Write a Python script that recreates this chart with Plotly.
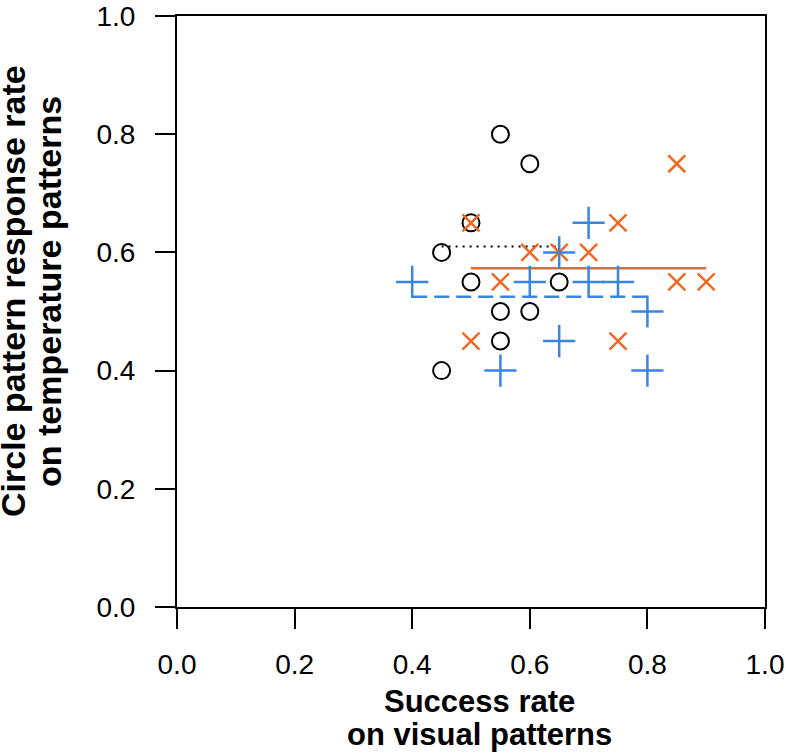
import plotly.graph_objects as go

# Data
circle_x = [0.55, 0.60, 0.50, 0.45, 0.50, 0.65, 0.55, 0.60, 0.55, 0.45]
circle_y = [0.80, 0.75, 0.65, 0.60, 0.55, 0.55, 0.50, 0.50, 0.45, 0.40]

cross_x = [0.85, 0.50, 0.75, 0.60, 0.65, 0.70, 0.55, 0.85, 0.90, 0.50, 0.75]
cross_y = [0.75, 0.65, 0.65, 0.60, 0.60, 0.60, 0.55, 0.55, 0.55, 0.45, 0.45]

plus_x = [0.70, 0.65, 0.40, 0.60, 0.70, 0.75, 0.80, 0.65, 0.55, 0.80]
plus_y = [0.65, 0.60, 0.55, 0.55, 0.55, 0.55, 0.50, 0.45, 0.40, 0.40]

# Mean lines (level and x-extent)
circle_mean = 0.61
circle_span = [0.45, 0.65]
cross_mean = 0.573
cross_span = [0.50, 0.90]
plus_mean = 0.525
plus_span = [0.40, 0.80]

tick_vals = [0.0, 0.2, 0.4, 0.6, 0.8, 1.0]
tick_text = ["0.0", "0.2", "0.4", "0.6", "0.8", "1.0"]

x_title_lines = ["Success rate", "on visual patterns"]
y_title_lines = ["Circle pattern response rate", "on temperature patterns"]

ORANGE = "#EE6A24"
BLUE = "#3A85E3"
BLACK = "#000000"
FONT = "Liberation Sans, Arial, Helvetica, sans-serif"

fig = go.Figure()

fig.add_trace(go.Scatter(x=circle_span, y=[circle_mean, circle_mean], mode="lines",
                         line=dict(color=BLACK, width=2, dash="2px,5px"), showlegend=False))
fig.add_trace(go.Scatter(x=cross_span, y=[cross_mean, cross_mean], mode="lines",
                         line=dict(color=ORANGE, width=2.5), showlegend=False))
fig.add_trace(go.Scatter(x=plus_span, y=[plus_mean, plus_mean], mode="lines",
                         line=dict(color=BLUE, width=2.5, dash="15px,7px"), showlegend=False))

fig.add_trace(go.Scatter(x=circle_x, y=circle_y, mode="markers",
                         marker=dict(symbol="circle-open", size=17, color=BLACK,
                                     line=dict(width=2, color=BLACK)), showlegend=False))
fig.add_trace(go.Scatter(x=cross_x, y=cross_y, mode="markers",
                         marker=dict(symbol="x-thin-open", size=17, color=ORANGE,
                                     line=dict(width=2.5, color=ORANGE)), showlegend=False))
fig.add_trace(go.Scatter(x=plus_x, y=plus_y, mode="markers",
                         marker=dict(symbol="cross-thin-open", size=23, color=BLUE,
                                     line=dict(width=2.5, color=BLUE)), showlegend=False))

axis_common = dict(
    range=[0, 1], tickvals=tick_vals, ticktext=tick_text, automargin=False,
    showgrid=False, zeroline=False, showline=True, mirror=True,
    linecolor=BLACK, linewidth=2, ticks="outside", ticklen=20, tickwidth=2,
    tickcolor=BLACK, tickfont=dict(family=FONT, size=28, color=BLACK),
    ticklabeloverflow="allow",
)

fig.update_xaxes(**axis_common, ticklabelstandoff=11)
fig.update_yaxes(**axis_common, ticklabelstandoff=14)

# x-axis title, one annotation per line
for txt, yp in zip(x_title_lines, [-0.1607, -0.2149]):
    fig.add_annotation(xref="paper", yref="paper", x=0.5153, y=yp, yanchor="middle",
                       text="<b>" + txt + "</b>", showarrow=False, borderpad=0,
                       font=dict(family=FONT, size=31, color=BLACK))
# y-axis title, one annotation per line
for txt, xp in zip(y_title_lines, [-0.2789, -0.2177]):
    fig.add_annotation(xref="paper", yref="paper", x=xp, y=0.5347, xanchor="center",
                       yanchor="middle", textangle=-90, borderpad=0,
                       text="<b>" + txt + "</b>", showarrow=False,
                       font=dict(family=FONT, size=34, color=BLACK))

fig.update_layout(
    width=786, height=756,
    margin=dict(l=177, r=21, t=16, b=149, autoexpand=False),
    plot_bgcolor="white", paper_bgcolor="white",
)

fig.write_html("out.html", config={"displayModeBar": False},
               post_script="document.body.style.margin='0';")
